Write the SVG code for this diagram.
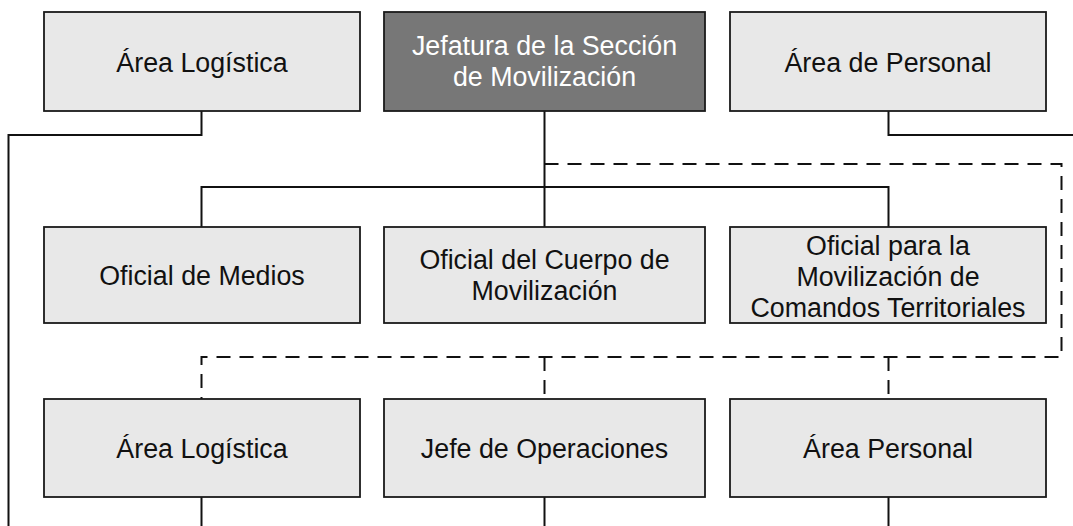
<svg xmlns="http://www.w3.org/2000/svg" width="1073" height="526" viewBox="0 0 1073 526">
<style>
.box{fill:#e8e8e8;stroke:#1a1a1a;stroke-width:1.8}
.dark{fill:#777777;stroke:#1a1a1a;stroke-width:1.8}
.t{font-family:"Liberation Sans",Arial,sans-serif;font-size:26.8px;fill:#111;text-anchor:middle}
.tw{fill:#ffffff}
.ln{fill:none;stroke:#111;stroke-width:2}
.dash{fill:none;stroke:#111;stroke-width:2;stroke-dasharray:14 9}
</style>
<rect width="1073" height="526" fill="#ffffff"/>
<g id="connectors">
<path class="ln" d="M201.5 111 V135 H8.5 V526"/>
<path class="ln" d="M888.5 111 V135 H1073"/>
<path class="ln" d="M544.5 111 V227"/>
<path class="ln" d="M201.5 227 V187 H888.5 V227"/>
<path class="dash" d="M544.5 164 H1061.5 V357 H201.5 V399"/>
<path class="dash" d="M544.5 357 V399"/>
<path class="dash" d="M888.5 357 V399"/>
<path class="ln" d="M201.5 497 V526"/>
<path class="ln" d="M544.5 497 V526"/>
<path class="ln" d="M888.5 497 V526"/>
</g>
<g id="area-logistica-top">
<rect class="box" x="44" y="12" width="316" height="99"/>
<text class="t" x="202" y="71.5">Área Logística</text>
</g>
<g id="jefatura">
<rect class="dark" x="384" y="12" width="321" height="99"/>
<text class="t tw" x="544.5" y="54.5">Jefatura de la Sección</text>
<text class="t tw" x="544.5" y="86">de Movilización</text>
</g>
<g id="area-personal-top">
<rect class="box" x="730" y="12" width="316" height="99"/>
<text class="t" x="888" y="71.5">Área de Personal</text>
</g>
<g id="oficial-medios">
<rect class="box" x="44" y="227" width="316" height="96"/>
<text class="t" x="202" y="285">Oficial de Medios</text>
</g>
<g id="oficial-cuerpo">
<rect class="box" x="384" y="227" width="321" height="96"/>
<text class="t" x="544.5" y="269">Oficial del Cuerpo de</text>
<text class="t" x="544.5" y="300">Movilización</text>
</g>
<g id="oficial-comandos">
<rect class="box" x="730" y="227" width="316" height="96"/>
<text class="t" x="888" y="255">Oficial para la</text>
<text class="t" x="888" y="286">Movilización de</text>
<text class="t" x="888" y="316.5">Comandos Territoriales</text>
</g>
<g id="area-logistica-bottom">
<rect class="box" x="44" y="399" width="316" height="98"/>
<text class="t" x="202" y="457.5">Área Logística</text>
</g>
<g id="jefe-operaciones">
<rect class="box" x="384" y="399" width="321" height="98"/>
<text class="t" x="544.5" y="457.5">Jefe de Operaciones</text>
</g>
<g id="area-personal-bottom">
<rect class="box" x="730" y="399" width="316" height="98"/>
<text class="t" x="888" y="457.5">Área Personal</text>
</g>
</svg>
